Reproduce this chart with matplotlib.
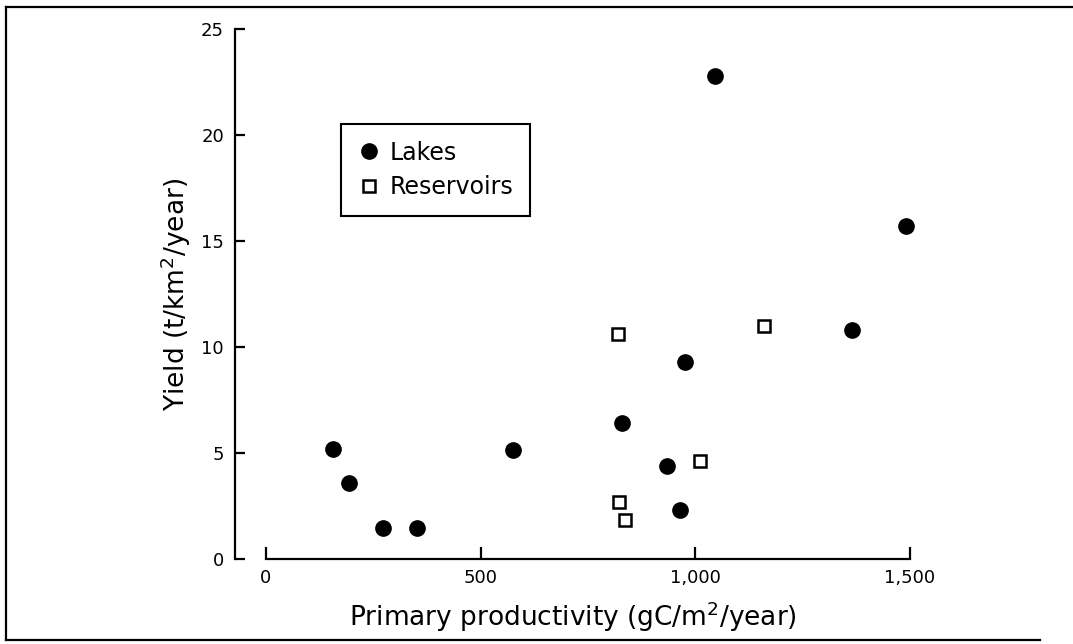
import matplotlib
matplotlib.use("Agg")
import matplotlib.pyplot as plt
from matplotlib.lines import Line2D

# ---- data ----
lakes_x = [157, 193, 273, 352, 575, 830, 1045, 1490, 1365, 975, 935, 965]
lakes_y = [5.2, 3.6, 1.45, 1.45, 5.15, 6.4, 22.8, 15.7, 10.8, 9.3, 4.4, 2.3]
res_x = [820, 1160, 1010, 822, 836]
res_y = [10.6, 11.0, 4.6, 2.7, 1.85]
xticks = [0, 500, 1000, 1500]
xticklabels = ["0", "500", "1,000", "1,500"]
yticks = [0, 5, 10, 15, 20, 25]
yticklabels = ["0", "5", "10", "15", "20", "25"]

W, H = 1073, 644
fig = plt.figure(figsize=(W / 100, H / 100), dpi=100)
plt.rcParams['font.family'] = ['DejaVu Sans']

left_px, right_px, bottom_px, top_px = 235, 910, 559, 29
ax = fig.add_axes([left_px / W, 1 - bottom_px / H,
                   (right_px - left_px) / W, (bottom_px - top_px) / H])
ax.set_xlim(-72, 1500)
ax.set_ylim(0, 25)

ax.plot(lakes_x, lakes_y, linestyle="none", marker="o", markersize=11,
        color="black", label="Lakes", clip_on=False)
ax.plot(res_x, res_y, linestyle="none", marker="s", markersize=9,
        markerfacecolor="white", markeredgecolor="black", markeredgewidth=1.8,
        label="Reservoirs", clip_on=False)

for s in ["top", "right"]:
    ax.spines[s].set_visible(False)
ax.spines["left"].set_bounds(0, 25)
ax.spines["bottom"].set_bounds(0, 1500)
for s in ["left", "bottom"]:
    ax.spines[s].set_linewidth(1.6)

ax.set_xticks(xticks)
ax.set_xticklabels(xticklabels)
ax.set_yticks(yticks)
ax.set_yticklabels(yticklabels)
ax.tick_params(axis="y", direction="in", length=7, width=1.6, labelsize=13, pad=8)
ax.tick_params(axis="x", direction="in", length=9, width=1.6, labelsize=13, pad=7)

ax.set_xlabel("Primary productivity (gC/m$^2$/year)", fontsize=19, labelpad=9)
ax.set_ylabel("Yield (t/km$^2$/year)", fontsize=19, labelpad=6)

leg = ax.legend(loc="upper left", bbox_to_anchor=(341 / W, 1 - 124 / H),
                bbox_transform=fig.transFigure, fontsize=17, frameon=True,
                fancybox=False, edgecolor="black", framealpha=1,
                handletextpad=0.35, borderpad=0.7, labelspacing=0.45,
                handlelength=1.0, borderaxespad=0, markerscale=1.0)
leg.get_frame().set_linewidth(1.5)

def fl(x0, y0, x1, y1):
    fig.add_artist(Line2D([x0 / W, x1 / W], [1 - y0 / H, 1 - y1 / H],
                          color="black", linewidth=1.6, transform=fig.transFigure))

fl(6, 7, W, 7)
fl(6, 7, 6, 640)
fl(6, 640, 1040, 640)

fig.savefig("out.png", dpi=100, facecolor="white")
